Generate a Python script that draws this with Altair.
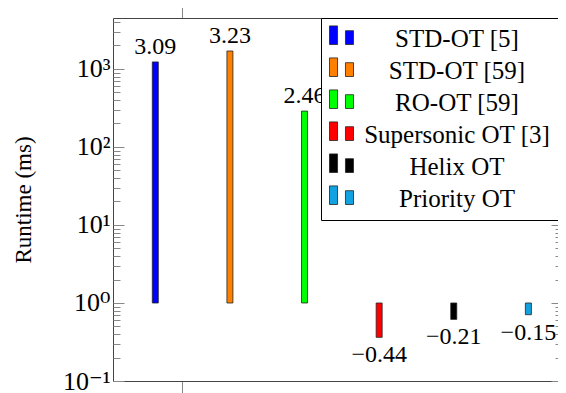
import altair as alt
import pandas as pd

methods = ["STD-OT [5]", "STD-OT [59]", "RO-OT [59]", "Supersonic OT [3]", "Helix OT", "Priority OT"]
log_runtime = [3.09, 3.23, 2.46, -0.44, -0.21, -0.15]
colors = ["#0000ff", "#ff8000", "#00ff00", "#ff0000", "#000000", "#12a2e2"]
major_ticks = [0.1, 1, 10, 100, 1000]
minor_mult = [1, 2, 3, 4, 5, 6, 7, 8, 9]
all_ticks = [m * t for t in major_ticks for m in minor_mult if m * t <= 4500]

df = pd.DataFrame({
    "method": methods,
    "idx": list(range(len(methods))),
    "exp": log_runtime,
    "runtime": [10 ** v for v in log_runtime],
    "base": [1.0] * len(methods),
    "label": [f"{v:.2f}".replace("-", "\u2212") for v in log_runtime],
})

FONT = "Liberation Serif, Times New Roman, DejaVu Serif, serif"
W, H = 445, 363
xs = alt.Scale(domain=[-0.5, 5.33], nice=False, zero=False)
ys = alt.Scale(type="log", domain=[0.1, 4500], nice=False)

is_major = "abs(log(datum.value)/LN10 - round(log(datum.value)/LN10)) < 0.001"
tick_size = {"condition": {"test": is_major, "value": 11}, "value": 7}
label_expr = ("datum.value < 0.5 ? '10\u207b\u00b9' : datum.value < 5 ? '10\u2070' : "
              "datum.value < 50 ? '10\u00b9' : datum.value < 500 ? '10\u00b2' : '10\u00b3'")

symbol_path = "M-1,-1.05H-0.33V0.5H-1Z M0.33,-0.65H1V0.5H0.33Z"

bars = alt.Chart(df).mark_bar(size=6, stroke="#222222", strokeWidth=0.8).encode(
    x=alt.X("idx:Q", scale=xs, axis=alt.Axis(
        orient="bottom", values=[0.36], labels=False, tickSize=12, tickColor="#888888",
        domainColor="#444444", grid=False, title=None)),
    y=alt.Y("runtime:Q", scale=ys, axis=alt.Axis(
        orient="left", values=major_ticks, labelExpr=label_expr, ticks=False,
        domainColor="#444444", grid=False, labelFont=FONT, labelFontSize=26,
        labelColor="black", labelPadding=3, title="Runtime (ms)", titleFont=FONT,
        titleFontSize=23, titleFontWeight="normal", titleColor="black",
        titleX=-90, titleY=H / 2, titleAlign="center", titleBaseline="middle", titleAngle=270)),
    y2="base:Q",
    fill=alt.Fill("method:N", scale=alt.Scale(domain=methods, range=colors), legend=alt.Legend(
        orient="none", legendX=208, legendY=0, title="\u00a0", titleOrient="right",
        titlePadding=30, strokeColor="black", fillColor="white", padding=8,
        symbolType=symbol_path, symbolSize=576, symbolStrokeColor="#222222",
        symbolStrokeWidth=0.8, symbolOpacity=1, labelFont=FONT, labelFontSize=25,
        labelColor="black", labelAlign="center", labelOffset=103, labelLimit=400,
        rowPadding=4, cornerRadius=0)),
)

pos = alt.Chart(df).transform_filter("datum.exp > 0").mark_text(
    font=FONT, fontSize=24, baseline="alphabetic", dy=-8, color="black").encode(
    x=alt.X("idx:Q", scale=xs, axis=alt.Axis(
        orient="top", values=[0.36], labels=False, tickSize=12, tickColor="#888888",
        domainColor="#444444", grid=False, title=None)),
    y=alt.Y("runtime:Q", scale=ys, axis=alt.Axis(
        orient="right", offset=-W, values=all_ticks, labels=False, domain=False,
        tickSize=tick_size, tickColor="#888888", grid=False, title=None)),
    text="label:N",
)

neg = alt.Chart(df).transform_filter("datum.exp < 0").mark_text(
    font=FONT, fontSize=24, baseline="alphabetic", dy=25, color="black").encode(
    x=alt.X("idx:Q", scale=xs, axis=None),
    y=alt.Y("runtime:Q", scale=ys, axis=alt.Axis(
        orient="left", offset=-(W + 4), values=all_ticks, labels=False, domain=False,
        tickSize=tick_size, tickColor="#888888", grid=False, title=None)),
    text="label:N",
)

chart = alt.layer(bars, pos, neg).resolve_axis(x="independent", y="independent").properties(
    width=W, height=H,
    autosize=alt.AutoSizeParams(type="none"),
    padding={"left": 105, "top": 10, "right": 0, "bottom": 12},
).configure_view(stroke=None)

chart.save("out.html", embed_options={"renderer": "svg", "actions": False})
